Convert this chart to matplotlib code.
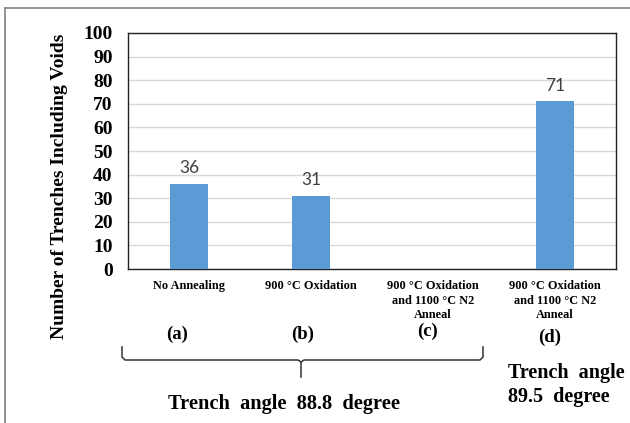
import matplotlib
matplotlib.use("Agg")
import matplotlib.pyplot as plt
from matplotlib.lines import Line2D

categories = ["No Annealing", "900 \u00b0C Oxidation",
              "900 \u00b0C Oxidation\nand 1100 \u00b0C N2\nAnneal",
              "900 \u00b0C Oxidation\nand 1100 \u00b0C N2\nAnneal"]
values = [36, 31, None, 71]
letters = ["(a)", "(b)", "(c)", "(d)"]
y_ticks = list(range(0, 101, 10))

W, H = 630, 423
fig = plt.figure(figsize=(W / 100, H / 100), dpi=100)
ax = fig.add_axes([128 / W, 1 - 269 / H, (616 - 128) / W, (269 - 33) / H])

serif = "Liberation Serif"
bar_color = "#5B9BD5"
xs = list(range(len(categories)))
for x, v in zip(xs, values):
    if v is None:
        continue
    ax.bar(x, v, width=0.31, color=bar_color, zorder=3)
    ax.text(x, v + 3.2, str(v), ha="center", va="bottom", fontsize=12.5,
            family="Lato", color="#404040", zorder=4)

ax.set_xlim(-0.5, len(categories) - 0.5)
ax.set_ylim(0, 100)
ax.set_yticks(y_ticks)
ax.set_yticklabels([str(t) for t in y_ticks], family=serif, fontweight="bold", fontsize=14)
ax.set_xticks(xs)
ax.set_xticklabels(categories, family=serif, fontweight="bold", fontsize=8.8,
                   linespacing=1.27, va="top")
ax.tick_params(axis="y", length=0, pad=11)
ax.tick_params(axis="x", length=0, pad=8)
ax.grid(axis="y", color="#D9D9D9", linewidth=1, zorder=0)
for s in ax.spines.values():
    s.set_color("#222222")
    s.set_linewidth(1)

fig.text(59.5 / W, 1 - 186 / H, "Number of Trenches Including Voids", rotation=90,
         ha="center", va="center", family=serif, fontweight="bold", fontsize=14)

letter_pos = [(177, 334), (303, 334), (428, 331), (550, 337)]
for lab, (px, py) in zip(letters, letter_pos):
    fig.text(px / W, 1 - py / H, lab, ha="center", va="center", family=serif,
             fontweight="bold", fontsize=13.5)

# brace
def fx(p):
    return p / W

def fy(p):
    return 1 - p / H

brace_col = "#333333"
bx0, bx1, btip = 122, 483, 301
ytop, yline, ytipb = 347, 360, 377
segs = [
    ([bx0, bx0, bx0 + 3, btip - 3, btip, btip], [ytop, yline - 3, yline, yline, yline + 2, ytipb]),
    ([btip, btip + 3, bx1 - 3, bx1, bx1], [yline + 2, yline, yline, yline - 3, ytop]),
]
for sx, sy in segs:
    fig.add_artist(Line2D([fx(a) for a in sx], [fy(b) for b in sy], color=brace_col,
                          linewidth=1.1, transform=fig.transFigure))

fig.text(284 / W, 1 - 404 / H, "Trench  angle  88.8  degree", ha="center", va="center",
         family=serif, fontweight="bold", fontsize=14.7)
fig.text(508 / W, 1 - 373 / H, "Trench  angle", ha="left", va="center",
         family=serif, fontweight="bold", fontsize=14.5)
fig.text(508 / W, 1 - 397 / H, "89.5  degree", ha="left", va="center",
         family=serif, fontweight="bold", fontsize=14.5)

# outer frame (top and left edges)
fig.add_artist(Line2D([fx(5), fx(630)], [fy(8), fy(8)], color="#808080", linewidth=1.2,
                      transform=fig.transFigure))
fig.add_artist(Line2D([fx(5), fx(5)], [fy(8), fy(423)], color="#808080", linewidth=1.2,
                      transform=fig.transFigure))

fig.savefig("out.png", dpi=100)
